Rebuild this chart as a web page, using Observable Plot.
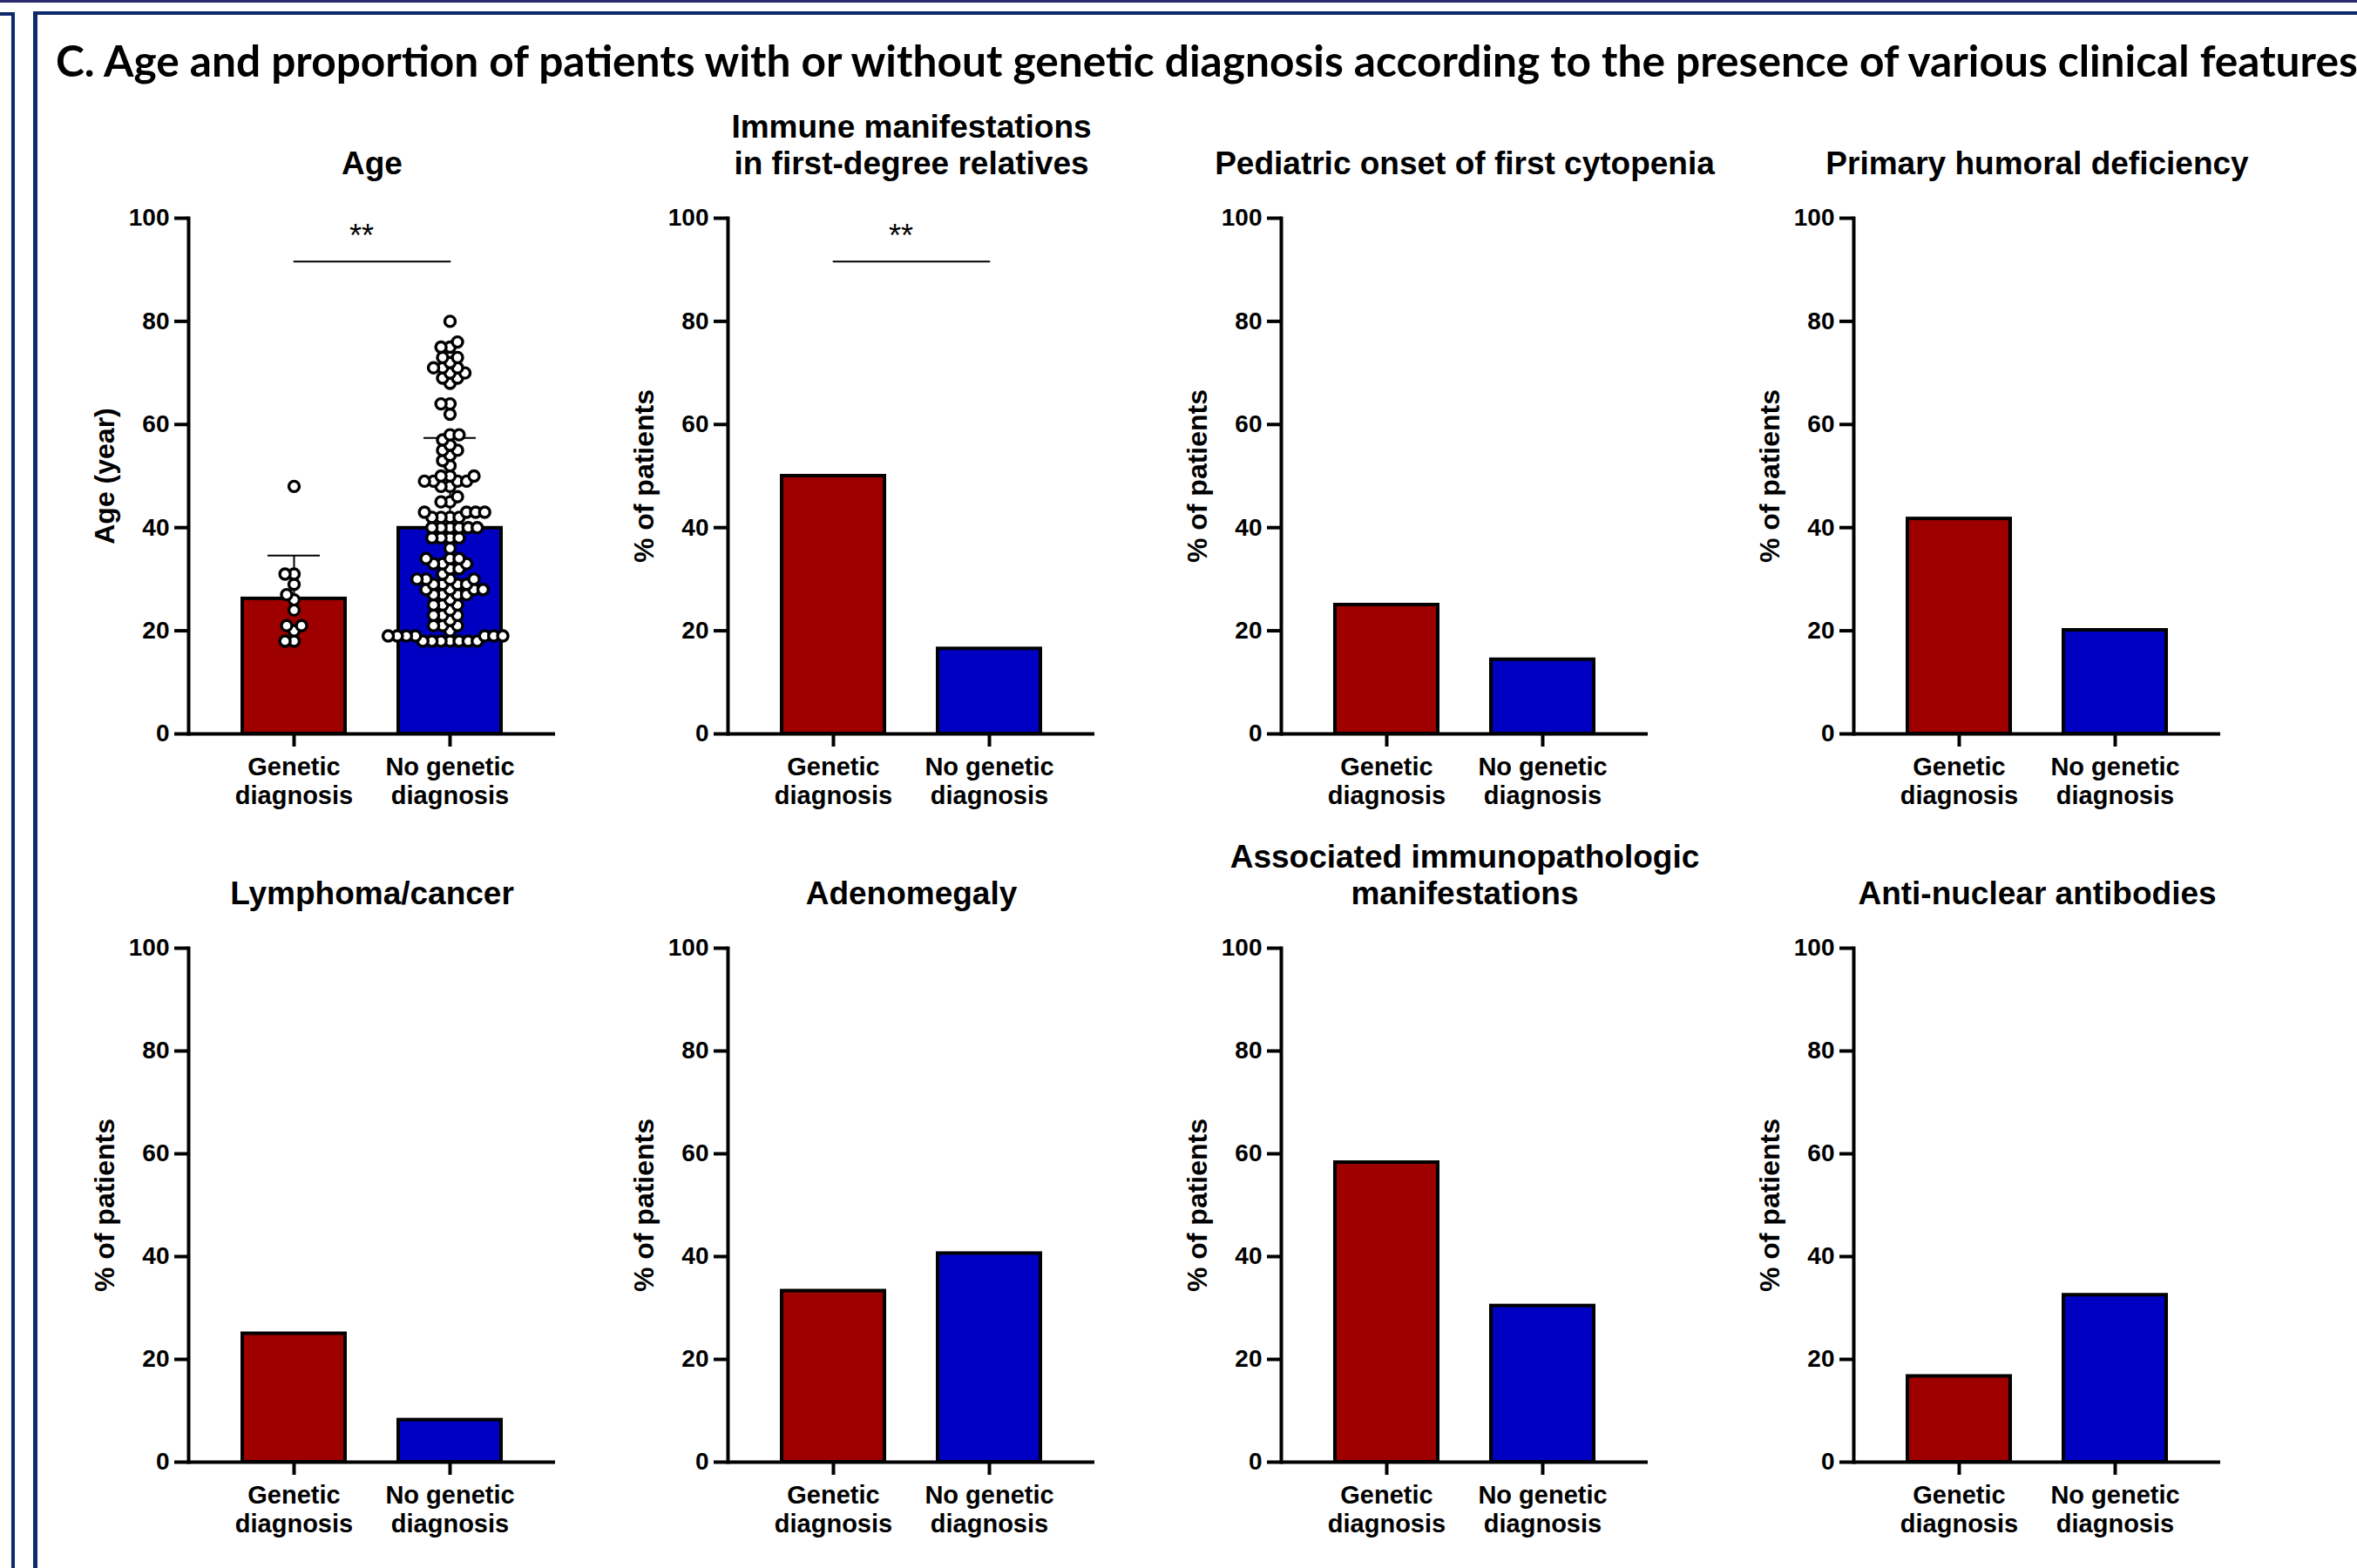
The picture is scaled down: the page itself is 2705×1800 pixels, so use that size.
<!DOCTYPE html>
<html>
<head>
<meta charset="utf-8">
<script src="https://cdn.jsdelivr.net/npm/d3@7"></script>
<script src="https://cdn.jsdelivr.net/npm/@observablehq/plot@0.6"></script>
<style>
html, body { margin: 0; padding: 0; background: #ffffff; }
#page { position: relative; width: 2705px; height: 1800px; overflow: hidden; background: #ffffff; }
.deco { position: absolute; }
.panel { position: absolute; }
</style>
</head>
<body>
<div id="page"></div>
<script>
// ---------------- DATA ----------------
const mainTitle = "C. Age and proportion of patients with or without genetic diagnosis according to the presence of various clinical features";
const groups = ["Genetic diagnosis", "No genetic diagnosis"];

const panelTitles = [
  "Age",
  "Immune manifestations\nin first-degree relatives",
  "Pediatric onset of first cytopenia",
  "Primary humoral deficiency",
  "Lymphoma/cancer",
  "Adenomegaly",
  "Associated immunopathologic\nmanifestations",
  "Anti-nuclear antibodies"
];
const yLabels = ["Age (year)", "% of patients", "% of patients", "% of patients",
                 "% of patients", "% of patients", "% of patients", "% of patients"];

// Age panel: means and SD (bars + error bars), individual ages (dots)
const ageMean = [26.2, 39.9];
const ageSD = [8.4, 17.5];
const agesGenetic = [18, 18, 20, 21, 21, 24, 26, 27, 29, 31, 31, 48];
const agesNoGenetic = [
  18, 18, 18, 18, 18, 18, 18,
  19, 19, 19, 19, 19, 19, 19,
  20, 21, 21, 21, 22, 23, 23, 23, 24, 25, 25, 25,
  26, 27, 27, 27, 27, 28, 28, 28, 28, 29, 29, 29, 29, 30, 30, 30, 30,
  31, 32, 32, 33, 33, 33, 34, 34, 34, 36, 38, 38, 38, 38,
  40, 40, 40, 40, 40, 40, 42, 42, 42, 42, 43, 43, 43, 43,
  45, 45, 46, 48, 48, 49, 49, 49, 49, 50, 50, 50,
  52, 53, 54, 55, 55, 56, 57, 58, 58, 62, 64, 64,
  68, 69, 69, 70, 70, 71, 71, 71, 72, 73, 73, 75, 75, 76, 80
];

// Percentage panels (panels 2..8)
const pctGenetic   = [50.0, 25.0, 41.7, 25.0, 33.3, 58.3, 16.7];
const pctNoGenetic = [16.5, 14.4, 20.1, 8.2, 40.6, 30.4, 32.5];

// Significance annotations (panel index -> label), drawn at these y values
const sigPanels = [0, 1];
const sigLabel = "**";
const sigLineY = 91.6;
const sigTextY = 96.5;

const yTicks = [0, 20, 40, 60, 80, 100];

// ---------------- STYLE / LAYOUT ----------------
const RED = "#9e0000";
const BLUE = "#0000c2";
const NAVY = "#0d2a6c";
const FONT = "'Liberation Sans', Arial, Helvetica, sans-serif";

const ML = 140, MR = 30, MT = 140, MB = 90;
const INNER_W = 421;
const W = ML + INNER_W + MR;
const colLeft = [76, 695, 1330, 1987];
const rowTop = [110, 948];
const rowInnerH = [592, 590];

const page = document.getElementById("page");

function deco(left, top, width, height, color) {
  const d = document.createElement("div");
  d.className = "deco";
  Object.assign(d.style, {left: left + "px", top: top + "px", width: width + "px", height: height + "px", background: color});
  page.appendChild(d);
}
// frame decorations
deco(0, 0, 2705, 3, "#2b2b6e");
deco(0, 14, 17, 4, NAVY);
deco(13, 14, 4, 1786, NAVY);
deco(38, 13, 2667, 4, NAVY);
deco(38, 13, 5, 1787, NAVY);

// main title
(function () {
  const ctx = document.createElement("canvas").getContext("2d");
  ctx.font = "bold 100px Lato";
  const w = ctx.measureText(mainTitle).width;
  const size = 100 * (2714 - 64) / w;
  const svg = d3.create("svg").attr("width", 2705).attr("height", 110)
    .style("position", "absolute").style("left", "0px").style("top", "0px");
  svg.append("text").attr("x", 64).attr("y", 88)
    .attr("font-family", "Lato, 'Open Sans', sans-serif").attr("font-weight", "bold")
    .attr("font-size", size).attr("fill", "#000").text(mainTitle);
  page.appendChild(svg.node());
})();

function makePlot(i, extraMarks, H) {
  const bars = i === 0
    ? groups.map((g, k) => ({group: g, value: ageMean[k]}))
    : groups.map((g, k) => ({group: g, value: (k === 0 ? pctGenetic : pctNoGenetic)[i - 1]}));
  const marks = [
    Plot.barY(bars, {x: "group", y: "value", fill: "group", stroke: "black", strokeWidth: 4})
  ];
  if (i === 0) {
    const stats = groups.map((g, k) => ({group: g, mean: ageMean[k], hi: ageMean[k] + ageSD[k]}));
    marks.push(Plot.ruleX(stats, {x: "group", y1: "mean", y2: "hi", stroke: "black", strokeWidth: 2}));
    marks.push(Plot.tickY(stats, {x: "group", y: "hi", stroke: "black", strokeWidth: 2, insetLeft: 29, insetRight: 29}));
  }
  marks.push(...extraMarks);
  marks.push(
    Plot.ruleY([0], {stroke: "black", strokeWidth: 4}),
    Plot.frame({anchor: "left", stroke: "black", strokeWidth: 4}),
    Plot.axisY({ticks: yTicks, tickSize: 16, tickPadding: 6, strokeWidth: 4, fontSize: 28, fontWeight: "bold", label: null}),
    Plot.axisX({tickSize: 15, tickPadding: 9, strokeWidth: 4, fontSize: 29, fontWeight: "bold", lineHeight: 1.14,
      tickFormat: (d) => d.replace(" diagnosis", "\ndiagnosis"), label: null}),
    Plot.text([panelTitles[i]], {text: (d) => d, frameAnchor: "top", lineAnchor: "bottom", dy: -51,
      fontSize: 37, fontWeight: "bold", lineHeight: 1.11}),
    Plot.text([yLabels[i]], {text: (d) => d, frameAnchor: "left", textAnchor: "middle", rotate: -90, dx: -96,
      fontSize: 32, fontWeight: "bold"})
  );
  if (sigPanels.includes(i)) {
    marks.push(
      Plot.line(groups.map((g) => ({group: g, y: sigLineY})), {x: "group", y: "y", stroke: "black", strokeWidth: 2}),
      Plot.text([{label: sigLabel, y: sigTextY}], {text: "label", y: "y", dx: -12, fontSize: 36, fontWeight: "normal"})
    );
  }
  return Plot.plot({
    width: W, height: H,
    marginTop: MT, marginBottom: MB, marginLeft: ML, marginRight: MR,
    x: {domain: groups, padding: 0.34},
    y: {domain: [0, 100]},
    color: {domain: groups, range: [RED, BLUE]},
    style: {fontFamily: FONT, color: "black", background: "transparent", maxWidth: "none", overflow: "visible"},
    marks
  });
}

for (let i = 0; i < 8; i++) {
  const row = Math.floor(i / 4), col = i % 4;
  const H = MT + rowInnerH[row] + MB;
  let svg;
  if (i === 0) {
    // first pass to read the x band scale, then place beeswarms at the band centres
    const probe = makePlot(0, [], H);
    const xs = probe.scale("x");
    const frameCenter = (ML + W - MR) / 2;
    const dxOf = (g) => xs.apply(g) - frameCenter;
    const dotStyle = {r: 6, fill: "white", stroke: "black", strokeWidth: 3.4};
    const dots = [
      Plot.dot(agesGenetic, Plot.dodgeX({anchor: "middle", padding: -1.6}, {y: (d) => d, ...dotStyle, dx: dxOf(groups[0])})),
      Plot.dot(agesNoGenetic, Plot.dodgeX({anchor: "middle", padding: -1.6}, {y: (d) => d, ...dotStyle, dx: dxOf(groups[1])}))
    ];
    svg = makePlot(0, dots, H);
  } else {
    svg = makePlot(i, [], H);
  }
  const div = document.createElement("div");
  div.className = "panel";
  Object.assign(div.style, {left: colLeft[col] + "px", top: rowTop[row] + "px", width: W + "px", height: H + "px"});
  div.appendChild(svg);
  page.appendChild(div);
}
</script>
</body>
</html>
